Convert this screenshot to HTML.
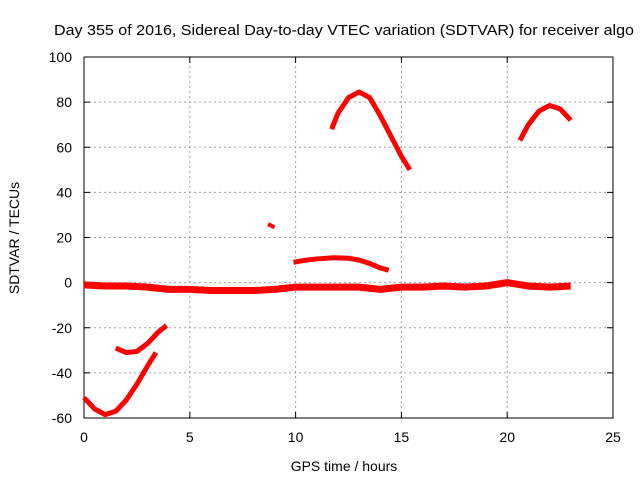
<!DOCTYPE html>
<html><head><meta charset="utf-8"><style>
body{margin:0;background:#fff;}
svg text{font-family:"Liberation Sans",sans-serif;font-size:14px;fill:#000;}
</style></head><body>
<svg id="chart" width="640" height="480">
<text x="54" y="35" textLength="580" lengthAdjust="spacingAndGlyphs" style="font-size:15px">Day 355 of 2016, Sidereal Day-to-day VTEC variation (SDTVAR) for receiver algo</text>
<g id="grid"></g><g id="axes"></g><g id="series"></g>
<text x="344" y="471" text-anchor="middle">GPS time / hours</text>
<text transform="translate(19,238) rotate(-90)" text-anchor="middle">SDTVAR / TECUs</text>
</svg>
<script>
const xTicks=[0,5,10,15,20,25];
const yTicks=[-60,-40,-20,0,20,40,60,80,100];
const mainHours=[0,1,2,3,4,5,6,7,8,9,10,11,12,13,14,15,16,17,18,19,20,21,22,23];
const mainVals=[-1,-1.5,-1.5,-2,-3,-3,-3.5,-3.5,-3.5,-3,-2,-2,-2,-2,-3,-2,-2,-1.5,-2,-1.5,0,-1.5,-2,-1.5];
const dipHours=[0,0.5,1,1.5,2,2.5,3,3.4];
const dipVals=[-51,-56,-58.5,-57,-52,-45,-37,-31];
const arcHours=[1.5,2,2.5,3,3.5,3.9];
const arcVals=[-29,-31,-30.5,-27,-22,-19];
const smallHours=[8.7,9];
const smallVals=[26,24.5];
const humpHours=[9.9,10.5,11,11.8,12.5,13,13.5,14,14.4];
const humpVals=[9,10,10.5,11,10.8,10,8.5,6.5,5.5];
const peakHours=[11.7,12,12.5,13,13.5,14,14.5,15,15.4];
const peakVals=[68,75,82,84.5,82,74,65,56,50];
const peak2Hours=[20.6,21,21.5,22,22.5,23];
const peak2Vals=[63,70,76,78.5,77,72];
const X0=84,X1=613,Y0=418,Y1=57;
const xs=h=>X0+(h-0)/25*(X1-X0);
const ys=v=>Y0-(v+60)/160*(Y0-Y1);
const NS='http://www.w3.org/2000/svg';
function mk(t,a,p){const e=document.createElementNS(NS,t);for(const k in a)e.setAttribute(k,a[k]);p.appendChild(e);return e;}
const grid=document.getElementById('grid'),axes=document.getElementById('axes'),ser=document.getElementById('series');
xTicks.forEach(t=>{
 const x=xs(t);
 if(t>0&&t<25){const l=mk('line',{x1:x,x2:x,y1:Y0,y2:Y1,stroke:'#a0a0a0','stroke-dasharray':'2,3'},grid);
 
 }
 mk('line',{x1:x,x2:x,y1:Y0,y2:Y0-6,stroke:'#000'},axes);
 mk('line',{x1:x,x2:x,y1:Y1,y2:Y1+6,stroke:'#000'},axes);
 const tx=mk('text',{x:x,y:Y0+24,'text-anchor':'middle'},axes);tx.textContent=t;
 
 
});
yTicks.forEach(t=>{
 const y=ys(t);
 if(t>-60&&t<100){const l=mk('line',{x1:X0,x2:X1,y1:y,y2:y,stroke:'#a0a0a0','stroke-dasharray':'2,3'},grid);
 
 }
 mk('line',{x1:X0,x2:X0+6,y1:y,y2:y,stroke:'#000'},axes);
 mk('line',{x1:X1,x2:X1-6,y1:y,y2:y,stroke:'#000'},axes);
 const tx=mk('text',{x:X0-12,y:y+5,'text-anchor':'end'},axes);tx.textContent=t;
 
 
});
const fr=mk('rect',{x:X0,y:Y1,width:X1-X0,height:Y0-Y1,fill:'none',stroke:'#000'},axes);


function draw(H,V,name,w){
 const p=mk('polyline',{points:H.map((h,i)=>xs(h)+','+ys(V[i])).join(' '),fill:'none',stroke:'#f00','stroke-width':w,'stroke-linejoin':'round'},ser);
 
 
}
draw(mainHours,mainVals,'series-baseline',7);
draw(dipHours,dipVals,'series-dip',5);
draw(arcHours,arcVals,'series-arc',5);
draw(smallHours,smallVals,'series-small',4);
draw(humpHours,humpVals,'series-hump',5);
draw(peakHours,peakVals,'series-peak',5);
draw(peak2Hours,peak2Vals,'series-peak2',5);
</script>
</body></html>
